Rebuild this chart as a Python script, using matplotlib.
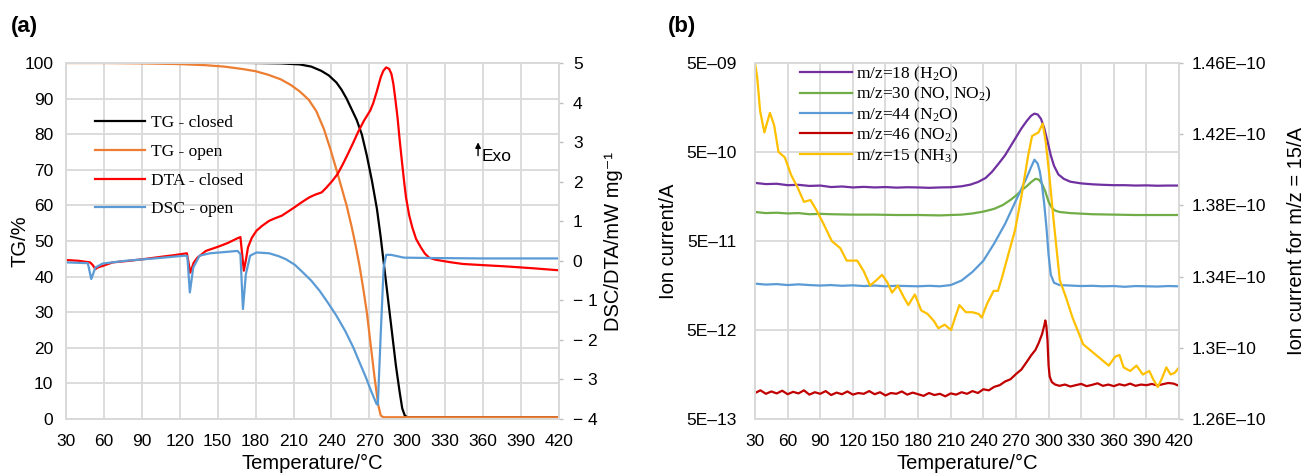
import matplotlib.pyplot as plt
from matplotlib.ticker import FixedLocator, NullLocator

plt.rcParams['font.family'] = ['Liberation Sans', 'DejaVu Sans']
plt.rcParams['mathtext.fontset'] = 'custom'
plt.rcParams['mathtext.rm'] = 'Liberation Serif'
plt.rcParams['mathtext.it'] = 'Liberation Serif:italic'

# ---- (a) thermal analysis ----
t_tg_closed = [30, 60, 90, 120, 150, 180, 200, 215, 224, 232, 238, 244, 248, 252, 256,
               260, 264, 268, 272, 276, 279, 282, 285, 288, 291, 294, 296, 298, 300, 420]
tg_closed = [100.2, 100.2, 100.2, 100.2, 100.1, 100.0, 99.9, 99.6, 99.0, 97.8, 96.5, 94.5, 92.5, 90, 87,
             84, 80, 74, 67, 59, 51, 42, 33, 24, 15, 7.5, 3, 1, 0.5, 0.5]

t_tg_open = [30, 60, 90, 120, 140, 155, 170, 180, 190, 200, 208, 215, 222, 228, 234,
             239, 244, 248, 252, 256, 259, 262, 265, 268, 271, 274, 277, 279, 281, 420]
tg_open = [100, 100, 99.9, 99.7, 99.4, 99.0, 98.3, 97.7, 96.7, 95.4, 93.8, 92, 89.7, 86.5, 81.5,
           76, 70, 65, 60, 54, 49, 43.5, 37, 30, 21, 12, 4, 1, 0.5, 0.5]

t_dta = [30, 40, 49, 51, 53.3, 55, 59, 67, 80, 91, 105, 115, 125.7, 128.3, 131, 134, 140.7,
         150.7, 158, 165.7, 168, 170.7, 172.5, 174, 177, 180.7, 185, 190.7, 195, 200.7, 205,
         210.7, 216, 222.3, 227, 232.3, 236, 240.7, 245, 249, 253, 257.3, 261, 265.7, 270.7,
         273, 275.7, 279, 281, 283.3, 285.7, 287.5, 289, 290.5, 292.3, 294, 295.7, 297.5, 299,
         301.5, 304, 307, 310.7, 314, 317.3, 322, 327.3, 335, 344, 360, 377.3, 400, 420]
dta_closed = [0.02, 0.0, -0.04, -0.1, -0.21, -0.17, -0.13, -0.04, 0.0, 0.04, 0.1, 0.14, 0.19, -0.3,
              -0.05, 0.08, 0.25, 0.36, 0.45, 0.57, 0.6, -0.25, 0.05, 0.34, 0.58, 0.76, 0.88, 1.01,
              1.07, 1.14, 1.23, 1.35, 1.47, 1.6, 1.67, 1.73, 1.85, 2.02, 2.2, 2.44, 2.7, 2.99, 3.25,
              3.54, 3.8, 3.98, 4.26, 4.64, 4.8, 4.89, 4.85, 4.72, 4.47, 4.1, 3.62, 3.05, 2.53, 2.0,
              1.6, 1.15, 0.84, 0.55, 0.34, 0.18, 0.08, 0.03, 0.0, -0.04, -0.08, -0.11, -0.14,
              -0.19, -0.24]

t_dsc = [30, 47.3, 50, 53.3, 59, 77, 100, 124, 126, 128, 130.7, 135.7, 144, 155, 165.7, 168,
         170, 172.3, 175.7, 180.7, 190.7, 198, 204, 211, 217.3, 224, 230.7, 237, 244, 251,
         257.3, 262, 267.3, 271.5, 275.7, 276.7, 279, 281.3, 283.3, 287.3, 297.3, 320, 360, 420]
dsc_open = [-0.04, -0.06, -0.46, -0.17, -0.07, 0.0, 0.06, 0.13, 0.12, -0.8, -0.17, 0.13, 0.19,
            0.22, 0.25, 0.17, -1.22, -0.34, 0.13, 0.21, 0.19, 0.12, 0.04, -0.1, -0.29, -0.5,
            -0.76, -1.05, -1.39, -1.78, -2.19, -2.55, -2.95, -3.3, -3.62, -3.64, -1.85, -0.17,
            0.15, 0.15, 0.08, 0.07, 0.06, 0.06]

temp_ticks = list(range(30, 421, 30))
tg_ticks = list(range(0, 101, 10))
heat_ticks = [-4, -3, -2, -1, 0, 1, 2, 3, 4, 5]
heat_labels = ['− 4', '− 3', '− 2', '− 1', '0', '1', '2', '3', '4', '5']

# ---- (b) evolved gas ion currents ----
t_h2o = [30, 40, 50, 60, 70, 80, 90, 100, 110, 120, 130, 140, 150, 160, 170, 180, 190, 200,
         210, 220, 228, 235, 242, 248, 254, 260, 265, 270, 275, 280, 284, 287, 290, 293, 296,
         299, 302, 305, 309, 314, 320, 330, 340, 350, 360, 370, 380, 390, 400, 410, 420]
h2o = [2.25, 2.18, 2.2, 2.12, 2.14, 2.08, 2.1, 2.02, 2.05, 2.0, 2.03, 2.0, 2.02, 1.99, 2.01,
       2.0, 1.98, 2.0, 2.01, 2.06, 2.15, 2.3, 2.55, 3.0, 3.7, 4.6, 5.8, 7.3, 9.2, 11.2, 12.8,
       13.5, 13.2, 11.8, 9.3, 6.6, 4.6, 3.5, 2.8, 2.5, 2.32, 2.22, 2.17, 2.14, 2.12, 2.12, 2.1,
       2.11, 2.09, 2.1, 2.1]  # 1E-10 A

t_no = [30, 40, 50, 60, 70, 80, 90, 100, 120, 140, 160, 180, 200, 210, 220, 230, 240, 250,
        258, 265, 270, 275, 280, 284, 288, 291, 294, 297, 300, 303, 306, 310, 320, 340, 360,
        380, 400, 420]
no = [1.06, 1.03, 1.04, 1.02, 1.03, 1.0, 1.01, 1.0, 0.99, 0.99, 0.98, 0.98, 0.97, 0.98, 0.99,
      1.02, 1.07, 1.15, 1.27, 1.45, 1.62, 1.85, 2.07, 2.3, 2.5, 2.45, 2.2, 1.8, 1.38, 1.18, 1.1,
      1.06, 1.03, 1.0, 0.99, 0.98, 0.98, 0.98]  # 1E-10 A

t_n2o = [30, 40, 50, 60, 70, 80, 90, 100, 110, 120, 130, 140, 150, 160, 170, 180, 190, 200,
         210, 220, 230, 240, 250, 260, 270, 280, 284, 287, 290, 292, 294, 296, 298, 300, 302,
         305, 310, 320, 330, 340, 350, 360, 370, 380, 390, 400, 410, 420]
n2o = [1.66, 1.62, 1.64, 1.6, 1.63, 1.6, 1.58, 1.6, 1.57, 1.59, 1.56, 1.58, 1.55, 1.57, 1.56,
       1.55, 1.57, 1.55, 1.6, 1.8, 2.25, 3.0, 4.7, 7.8, 14.3, 26, 34, 41, 37, 30, 21, 13, 7.2,
       3.5, 2.1, 1.7, 1.6, 1.58, 1.56, 1.57, 1.55, 1.56, 1.53, 1.56, 1.55, 1.54, 1.56, 1.55]  # 1E-11 A

t_no2 = (list(range(30, 241, 5))
         + [245, 250, 255, 260, 265, 270, 275, 280, 284, 288, 291, 294, 296, 297, 298, 299,
            300, 301, 303, 306, 310]
         + list(range(315, 421, 5)))
no2 = [0.98, 1.05, 0.96, 1.02, 0.97, 1.04, 0.95, 1.01, 0.97, 1.05, 0.94, 1.0, 0.96, 1.03, 0.93,
       0.99, 0.95, 1.02, 0.94, 0.98, 0.96, 1.03, 0.95, 1.0, 0.92, 0.98, 0.96, 1.02, 0.94, 0.99,
       0.95, 0.91, 0.98, 0.93, 0.96, 0.9, 0.97, 0.94, 1.0, 0.96, 1.03, 0.98, 1.08,
       1.05, 1.15, 1.2, 1.32, 1.4, 1.6, 1.8, 2.2, 2.6, 3.0, 3.6, 4.5, 5.6, 6.4, 5.5, 3.8, 2.0,
       1.5, 1.3, 1.22, 1.18,
       1.22, 1.16, 1.2, 1.24, 1.17, 1.21, 1.26, 1.18, 1.22, 1.17, 1.23, 1.19, 1.25, 1.18, 1.22,
       1.2, 1.24, 1.19, 1.23, 1.27, 1.25, 1.18]  # 1E-12 A

t_nh3 = [30, 32, 34.7, 38.6, 41.8, 43.7, 47.6, 51.6, 57.4, 63.3, 69.2, 75, 81, 86.8, 92.7,
         100.6, 108.4, 114.3, 124, 130, 135.8, 141.7, 146.8, 151.5, 156, 161.3, 167.2, 171,
         177, 182.9, 188.8, 194.6, 198.6, 204.4, 210.3, 214, 218, 224, 230, 235.8, 238.5,
         243.6, 249.5, 253.4, 257.4, 263.2, 269.1, 275, 280.9, 284.8, 290.7, 294.6, 297.3,
         300.5, 304.4, 310.3, 316.2, 322, 327.9, 331.8, 337.7, 343.6, 349.5, 355.4, 361.2,
         365.2, 369, 375, 380.9, 386.7, 392.6, 396.5, 400.5, 404.4, 408.3, 412.2, 416.1, 420]
nh3 = [1.460, 1.452, 1.433, 1.421, 1.428, 1.432, 1.425, 1.410, 1.407, 1.397, 1.390, 1.382,
       1.383, 1.377, 1.370, 1.360, 1.356, 1.349, 1.349, 1.343, 1.335, 1.338, 1.341, 1.337,
       1.331, 1.335, 1.328, 1.324, 1.330, 1.321, 1.319, 1.315, 1.311, 1.313, 1.310, 1.317,
       1.324, 1.320, 1.320, 1.319, 1.317, 1.325, 1.332, 1.332, 1.340, 1.353, 1.366, 1.385,
       1.407, 1.419, 1.421, 1.426, 1.416, 1.398, 1.373, 1.338, 1.328, 1.317, 1.308, 1.302,
       1.299, 1.296, 1.293, 1.290, 1.295, 1.296, 1.289, 1.287, 1.290, 1.285, 1.287, 1.282,
       1.278, 1.283, 1.289, 1.285, 1.286, 1.289]  # 1E-10 A

ion_ticks = [5e-13, 5e-12, 5e-11, 5e-10, 5e-9]
ion_labels = ['5E–13', '5E–12', '5E–11', '5E–10', '5E–09']
nh3_ticks = [1.26e-10, 1.30e-10, 1.34e-10, 1.38e-10, 1.42e-10, 1.46e-10]
nh3_labels = ['1.26E–10', '1.3E–10', '1.34E–10', '1.38E–10', '1.42E–10', '1.46E–10']

GRID = '#d9d9d9'
TICK_FS = 12.5
LABEL_FS = 14.5
LW = 1.6


def style_axes(ax, right=False):
    for s in ax.spines.values():
        s.set_color(GRID)
        s.set_linewidth(1.3)
    if right:
        ax.tick_params(axis='y', length=3, width=1, color='#bfbfbf', labelsize=TICK_FS)
    else:
        ax.tick_params(axis='both', length=0, labelsize=TICK_FS)


fig = plt.figure(figsize=(13.14, 4.76), dpi=100)

# (a)
ax = fig.add_axes([0.0502, 0.1197, 0.3752, 0.7479])
ax.set_xlim(30, 420)
ax.set_ylim(0, 100)
ax.set_xticks(temp_ticks)
ax.set_yticks(tg_ticks)
ax.grid(True, color=GRID, lw=1.3)
ax.set_axisbelow(True)
style_axes(ax)
ax.tick_params(axis='x', pad=11)
ax.tick_params(axis='y', pad=9)
l1, = ax.plot(t_tg_closed, tg_closed, color='black', lw=LW, label='TG - closed')
l2, = ax.plot(t_tg_open, tg_open, color='#ed7d31', lw=LW, label='TG - open')
ax.set_xlabel('Temperature/°C', fontsize=LABEL_FS, labelpad=3)
ax.set_ylabel('TG/%', fontsize=LABEL_FS)
ax.yaxis.set_label_coords(-0.074, 0.5)

ax2 = ax.twinx()
ax2.set_ylim(-4, 5)
ax2.set_yticks(heat_ticks)
ax2.set_yticklabels(heat_labels)
style_axes(ax2, right=True)
ax2.tick_params(axis='y', pad=7)
l3, = ax2.plot(t_dta, dta_closed, color='#ff0000', lw=LW, label='DTA - closed')
l4, = ax2.plot(t_dsc, dsc_open, color='#5b9bd5', lw=LW, label='DSC - open')
ax2.set_ylabel('DSC/DTA/mW mg⁻¹', fontsize=LABEL_FS)
ax2.yaxis.set_label_coords(1.092, 0.5)
ax2.legend(handles=[l1, l2, l3, l4], loc='upper left', bbox_to_anchor=(0.045, 0.873),
           frameon=False, prop={'family': 'Liberation Serif', 'size': 12.5},
           handlelength=2.9, handletextpad=0.3, labelspacing=0.72, borderaxespad=0)
ax2.annotate('', xy=(356, 78.5), xytext=(356, 73.2), xycoords=ax.transData,
             textcoords=ax.transData,
             arrowprops=dict(arrowstyle='-|>', color='black', lw=1, mutation_scale=8))
ax.text(358.5, 73.8, 'Exo', fontsize=TICK_FS, va='center', ha='left')

fig.text(0.008, 0.945, '(a)', fontsize=16, fontweight='bold', va='center')

# (b)
bx = fig.add_axes([0.5746, 0.1197, 0.3227, 0.7479])
bx.set_xlim(30, 420)
bx.set_yscale('log')
bx.set_ylim(5e-13, 5e-9)
bx.set_xticks(temp_ticks)
bx.yaxis.set_major_locator(FixedLocator(ion_ticks))
bx.yaxis.set_minor_locator(NullLocator())
bx.set_yticklabels(ion_labels)
bx.grid(True, color=GRID, lw=1.3)
bx.set_axisbelow(True)
style_axes(bx)
bx.tick_params(axis='x', pad=11)
bx.tick_params(axis='y', pad=13)
m1, = bx.plot(t_h2o, [v * 1e-10 for v in h2o], color='#7030a0', lw=LW, label='m/z=18 (H$_2$O)')
m2, = bx.plot(t_no, [v * 1e-10 for v in no], color='#70ad47', lw=LW, label='m/z=30 (NO, NO$_2$)')
m3, = bx.plot(t_n2o, [v * 1e-11 for v in n2o], color='#5b9bd5', lw=LW, label='m/z=44 (N$_2$O)')
m4, = bx.plot(t_no2, [v * 1e-12 for v in no2], color='#c00000', lw=LW, label='m/z=46 (NO$_2$)')
bx.set_xlabel('Temperature/°C', fontsize=LABEL_FS, labelpad=3)
bx.set_ylabel('Ion current/A', fontsize=LABEL_FS)
bx.yaxis.set_label_coords(-0.182, 0.5)

bx2 = bx.twinx()
bx2.set_ylim(1.26e-10, 1.46e-10)
bx2.yaxis.set_major_locator(FixedLocator(nh3_ticks))
bx2.set_yticklabels(nh3_labels)
style_axes(bx2, right=True)
bx2.tick_params(axis='y', pad=6)
m5, = bx2.plot(t_nh3, [v * 1e-10 for v in nh3], color='#ffc000', lw=LW, label='m/z=15 (NH$_3$)')
bx2.set_ylabel('Ion current for m/z = 15/A', fontsize=LABEL_FS)
bx2.yaxis.set_label_coords(1.255, 0.5)
bx2.legend(handles=[m1, m2, m3, m4, m5], loc='upper left', bbox_to_anchor=(0.09, 1.015),
           frameon=False, prop={'family': 'Liberation Serif', 'size': 12.5},
           handlelength=3.0, handletextpad=0.2, labelspacing=0.07, borderaxespad=0)

fig.text(0.508, 0.945, '(b)', fontsize=16, fontweight='bold', va='center')

fig.savefig('out.png', dpi=100)
